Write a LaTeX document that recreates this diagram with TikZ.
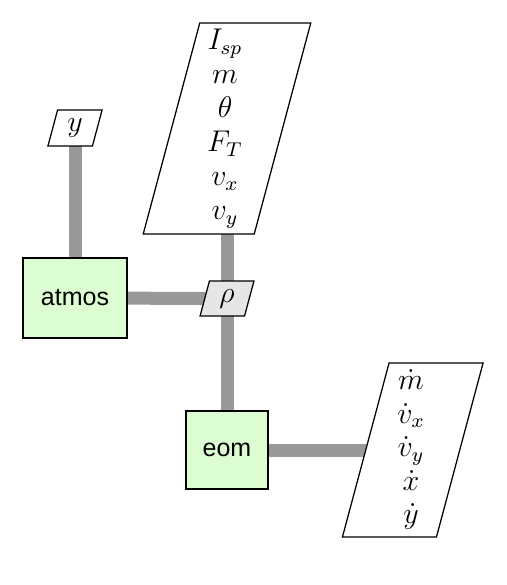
\documentclass[tikz,border=0pt]{standalone}
\usepackage{fontspec}
\newfontfamily\sfx{Liberation Sans}
\usetikzlibrary{calc}
\definecolor{conn}{RGB}{153,153,153}
\definecolor{fgreen}{RGB}{220,253,210}
\definecolor{fgray}{RGB}{230,230,230}
\pgfdeclarelayer{bg}
\pgfdeclarelayer{mid}
\pgfsetlayers{bg,mid,main}
% parallelogram: center x, center y, side width, height, fill
\newcommand\dataio[5]{%
  \pgfmathsetmacro\slnt{0.26795*#4}%
  \begin{pgfonlayer}{mid}
  \path[para, fill=#5] (#1-#3/2-\slnt/2, #2+#4/2) -- (#1+#3/2-\slnt/2, #2+#4/2)
     -- (#1+#3/2+\slnt/2, #2-#4/2) -- (#1-#3/2+\slnt/2, #2-#4/2) -- cycle;
  \end{pgfonlayer}}
\begin{document}
\begin{tikzpicture}[x=0.4pt,y=-0.4pt,
  func/.style={draw, line width=0.5pt, fill=fgreen, inner sep=0pt, font=\sfx},
  txt/.style={inner sep=0pt, font=\large},
  para/.style={draw, line width=0.5pt},
  link/.style={draw=conn, line width=5.2pt}]
\useasboundingbox (0,0) rectangle (506,585);

% function blocks
\node[func, minimum width=41.6pt, minimum height=32pt] (atmos) at (75,298) {atmos};
\node[func, minimum width=32.8pt, minimum height=31.2pt] (eom) at (227,450) {eom};

% data nodes (text)
\node[txt] (yin) at (75,128) {$y$};
\node[txt] (rho) at (227,298.5) {$\rho$};
\node[txt] (inp) at (225,128) {\def\arraystretch{0.97}\begin{tabular}{@{}c@{}}$I_{sp}$\\ $m$\\ $\theta$\\ $F_T$\\ $v_x$\\ $v_y$\end{tabular}};
\node[txt] (outp) at (411,450) {\def\arraystretch{0.96}\begin{tabular}{@{}c@{}}$\dot m$\\ $\dot v_x$\\ $\dot v_y$\\ $\dot x$\\ $\dot y$\end{tabular}};

% parallelogram frames
\dataio{75}{128}{44.5}{36}{white}
\dataio{227}{298.5}{44.5}{35}{fgray}
\dataio{227}{128.5}{111}{211}{white}
\dataio{412.75}{450}{94}{174}{white}

% connectors
\begin{pgfonlayer}{bg}
\draw[link] (yin.center) -- (atmos.center);
\draw[link] (atmos.center) -- (rho.center);
\draw[link] (inp.center -| rho.center) -- (rho.center);
\draw[link] (rho.center) -- (eom.center);
\draw[link] (eom.center) -- (outp.center);
\end{pgfonlayer}
\end{tikzpicture}
\end{document}
